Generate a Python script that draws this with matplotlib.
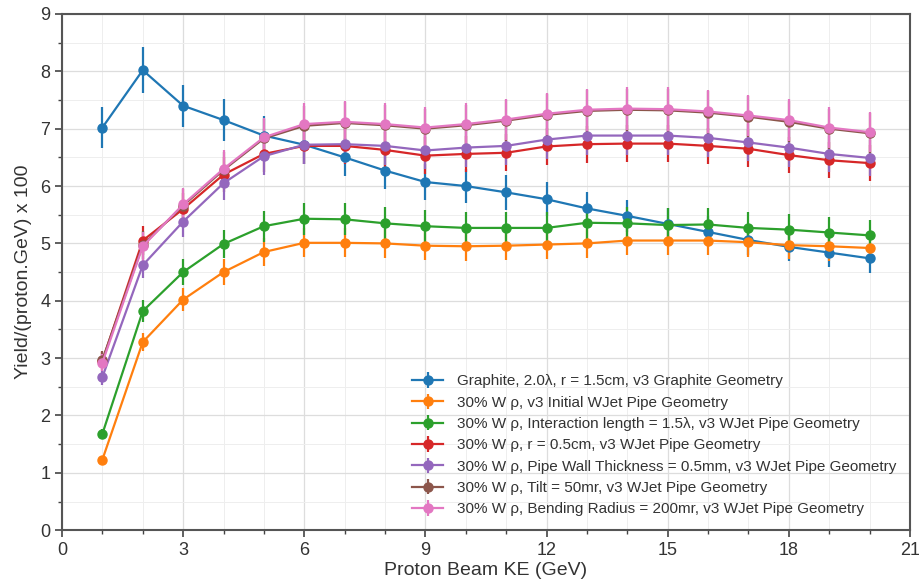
import matplotlib
matplotlib.use("Agg")
import matplotlib.pyplot as plt
from matplotlib.ticker import MultipleLocator

# beam kinetic energy (GeV)
ke = list(range(1, 21))

graphite = [7.02, 8.02, 7.40, 7.15, 6.88, 6.72, 6.50, 6.27, 6.07, 6.00,
            5.89, 5.77, 5.61, 5.48, 5.34, 5.20, 5.06, 4.94, 4.84, 4.74]
graphite_err = [0.35, 0.40, 0.37, 0.36, 0.34, 0.34, 0.33, 0.32, 0.31, 0.30,
                0.30, 0.30, 0.29, 0.28, 0.28, 0.27, 0.26, 0.25, 0.25, 0.25]

w_initial = [1.23, 3.28, 4.02, 4.50, 4.85, 5.01, 5.01, 5.00, 4.96, 4.95,
             4.96, 4.98, 5.00, 5.05, 5.05, 5.05, 5.02, 4.97, 4.95, 4.92]
w_initial_err = [0.06, 0.16, 0.20, 0.22, 0.24, 0.25, 0.25, 0.25, 0.25, 0.25,
                 0.25, 0.25, 0.25, 0.25, 0.25, 0.25, 0.25, 0.25, 0.25, 0.25]

w_int_len = [1.68, 3.82, 4.50, 4.99, 5.30, 5.43, 5.42, 5.35, 5.30, 5.27,
             5.27, 5.27, 5.36, 5.35, 5.32, 5.33, 5.27, 5.24, 5.19, 5.14]
w_int_len_err = [0.08, 0.19, 0.23, 0.25, 0.27, 0.28, 0.28, 0.28, 0.28, 0.28,
                 0.28, 0.28, 0.29, 0.29, 0.29, 0.29, 0.28, 0.28, 0.27, 0.27]

w_radius = [2.95, 5.05, 5.60, 6.20, 6.56, 6.70, 6.70, 6.63, 6.53, 6.56,
            6.58, 6.69, 6.73, 6.74, 6.74, 6.70, 6.65, 6.54, 6.45, 6.40]
w_radius_err = [0.15, 0.25, 0.28, 0.30, 0.31, 0.32, 0.32, 0.32, 0.32, 0.32,
                0.32, 0.32, 0.32, 0.32, 0.32, 0.32, 0.32, 0.32, 0.31, 0.31]

w_wall = [2.67, 4.62, 5.38, 6.05, 6.52, 6.72, 6.73, 6.70, 6.62, 6.67,
          6.70, 6.81, 6.88, 6.88, 6.88, 6.84, 6.76, 6.67, 6.56, 6.49]
w_wall_err = [0.13, 0.23, 0.27, 0.30, 0.32, 0.33, 0.33, 0.33, 0.33, 0.33,
              0.33, 0.34, 0.34, 0.34, 0.34, 0.34, 0.33, 0.33, 0.32, 0.32]

w_tilt = [2.97, 4.97, 5.66, 6.28, 6.83, 7.05, 7.10, 7.06, 7.00, 7.06,
          7.14, 7.24, 7.31, 7.33, 7.32, 7.28, 7.21, 7.12, 7.00, 6.92]
w_tilt_err = [0.15, 0.25, 0.28, 0.31, 0.34, 0.35, 0.36, 0.36, 0.35, 0.36,
              0.36, 0.37, 0.37, 0.37, 0.37, 0.37, 0.36, 0.36, 0.35, 0.35]

w_bend = [2.92, 4.95, 5.68, 6.30, 6.85, 7.08, 7.12, 7.08, 7.02, 7.08,
          7.16, 7.26, 7.33, 7.35, 7.34, 7.30, 7.23, 7.15, 7.02, 6.94]
w_bend_err = [0.15, 0.25, 0.28, 0.32, 0.34, 0.36, 0.36, 0.36, 0.35, 0.36,
              0.36, 0.37, 0.37, 0.38, 0.38, 0.37, 0.36, 0.36, 0.35, 0.35]

labels = ["Graphite, 2.0\u03bb, r = 1.5cm, v3 Graphite Geometry",
          "30% W \u03c1, v3 Initial WJet Pipe Geometry",
          "30% W \u03c1, Interaction length = 1.5\u03bb, v3 WJet Pipe Geometry",
          "30% W \u03c1, r = 0.5cm, v3 WJet Pipe Geometry",
          "30% W \u03c1, Pipe Wall Thickness = 0.5mm, v3 WJet Pipe Geometry",
          "30% W \u03c1, Tilt = 50mr, v3 WJet Pipe Geometry",
          "30% W \u03c1, Bending Radius = 200mr, v3 WJet Pipe Geometry"]

series = [(graphite, graphite_err), (w_initial, w_initial_err),
          (w_int_len, w_int_len_err), (w_radius, w_radius_err),
          (w_wall, w_wall_err), (w_tilt, w_tilt_err), (w_bend, w_bend_err)]
colors = ["#1f77b4", "#ff7f0e", "#2ca02c", "#d62728", "#9467bd", "#8c564b", "#e377c2"]

plt.rcParams['font.family'] = ['Liberation Sans', 'DejaVu Sans']

fig = plt.figure(figsize=(9.2, 5.82), dpi=100)
ax = fig.add_axes([0.0674, 0.089, 0.9216, 0.887])

for (vals, errs), lab, c in zip(series, labels, colors):
    ax.errorbar(ke, vals, yerr=errs, fmt='-o', color=c, label=lab,
                markersize=6.5, linewidth=1.6, elinewidth=1.6, capsize=0)

ax.set_xlim(0, 21)
ax.set_ylim(0, 9)
ax.xaxis.set_major_locator(MultipleLocator(3))
ax.xaxis.set_minor_locator(MultipleLocator(1))
ax.yaxis.set_major_locator(MultipleLocator(1))
ax.yaxis.set_minor_locator(MultipleLocator(0.5))
ax.grid(which='major', color='#dddddd', linewidth=0.9)
ax.grid(which='minor', color='#eeeeee', linewidth=0.7)
ax.set_axisbelow(True)
ax.tick_params(which='major', direction='out', length=5, width=1.2, colors='#444444',
               labelsize=13, labelcolor='#333333', top=False, right=False)
ax.tick_params(which='minor', direction='out', length=3, width=1, colors='#444444',
               top=False, right=False)
for sp in ax.spines.values():
    sp.set_color('#555555')
    sp.set_linewidth(1.5)

ax.set_xlabel("Proton Beam KE (GeV)", fontsize=14, color='#333333', labelpad=2)
ax.set_ylabel("Yield/(proton.GeV) x 100", fontsize=14, color='#333333', labelpad=6)

leg = ax.legend(loc='lower right', frameon=False, fontsize=11,
                handlelength=2.0, handletextpad=0.9, borderaxespad=0.5,
                labelspacing=0.48)
for t in leg.get_texts():
    t.set_color('#333333')

fig.savefig("out.png", dpi=100)
